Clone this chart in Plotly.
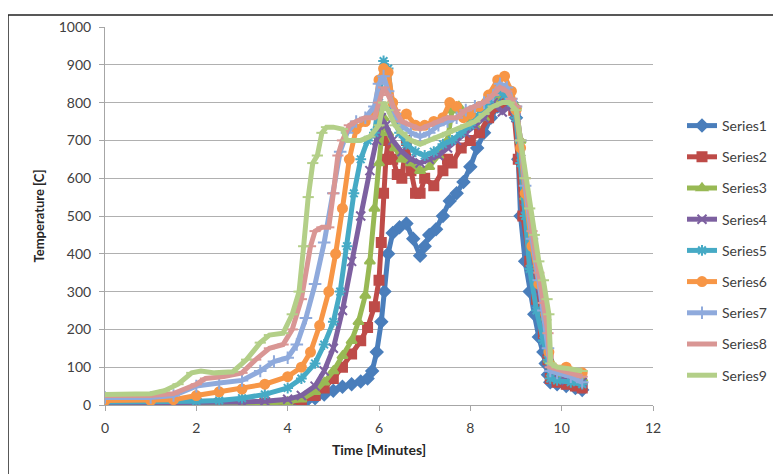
import plotly.graph_objects as go

# ---------------- data ----------------
names = ["Series1", "Series2", "Series3", "Series4", "Series5",
         "Series6", "Series7", "Series8", "Series9"]

t1 = [0, 0.5, 1, 1.5, 2, 2.5, 3, 3.5, 4, 4.2, 4.4, 4.6, 4.8, 5.0, 5.2, 5.4, 5.6, 5.75, 5.85, 5.95,
      6.05, 6.12, 6.2, 6.3, 6.45, 6.6, 6.75, 6.9, 7.0, 7.1, 7.25, 7.4, 7.55, 7.7, 7.85, 8.0, 8.15,
      8.3, 8.45, 8.6, 8.75, 8.9, 9.0, 9.05, 9.1, 9.2, 9.3, 9.4, 9.5, 9.6, 9.65, 9.7, 9.75, 9.9,
      10.1, 10.3, 10.45]
v1 = [0, 0, 0, 0, 0, 1, 1, 2, 3, 5, 10, 18, 28, 38, 48, 55, 62, 70, 90, 140,
      220, 300, 400, 455, 470, 480, 440, 395, 420, 450, 465, 500, 540, 560, 590, 630, 680,
      720, 760, 790, 810, 800, 760, 650, 500, 380, 300, 240, 180, 140, 110, 80, 60, 55,
      50, 45, 40]

t2 = [0, 0.5, 1, 1.5, 2, 2.5, 3, 3.5, 4, 4.3, 4.6, 4.8, 5.0, 5.2, 5.4, 5.6, 5.75, 5.9, 6.0, 6.05,
      6.1, 6.15, 6.2, 6.3, 6.4, 6.5, 6.6, 6.7, 6.8, 6.9, 7.0, 7.2, 7.4, 7.5, 7.6, 7.8, 8.0, 8.2,
      8.4, 8.6, 8.8, 8.95, 9.05, 9.15, 9.3, 9.45, 9.6, 9.7, 9.75, 9.9, 10.1, 10.3, 10.45]
v2 = [2, 2, 2, 2, 3, 3, 4, 5, 6, 10, 25, 45, 70, 100, 135, 170, 205, 260, 330, 430,
      560, 650, 700, 650, 610, 600, 700, 620, 560, 560, 600, 580, 620, 650, 640, 680, 700, 720,
      760, 790, 800, 780, 650, 500, 380, 280, 190, 120, 70, 60, 55, 50, 45]

t3 = [0, 1, 2, 3, 3.5, 4, 4.3, 4.6, 4.8, 5.0, 5.2, 5.4, 5.55, 5.7, 5.8, 5.9, 6.0, 6.1, 6.2, 6.35,
      6.5, 6.7, 6.9, 7.1, 7.3, 7.5, 7.6, 7.75, 7.9, 8.1, 8.3, 8.5, 8.7, 8.85, 9.0, 9.1, 9.2, 9.35,
      9.5, 9.65, 9.72, 9.8, 10.1, 10.45]
v3 = [3, 3, 3, 4, 5, 8, 15, 35, 60, 90, 130, 170, 220, 290, 380, 520, 640, 760, 720, 680,
      650, 640, 620, 630, 660, 700, 780, 790, 760, 740, 760, 800, 830, 810, 790, 700, 550, 420,
      320, 230, 120, 80, 75, 70]

t4 = [0, 1, 2, 3, 3.5, 4, 4.3, 4.6, 4.8, 5.0, 5.2, 5.4, 5.6, 5.8, 5.95, 6.05, 6.15, 6.3, 6.5, 6.7,
      6.9, 7.1, 7.3, 7.5, 7.7, 7.9, 8.1, 8.3, 8.5, 8.7, 8.85, 9.0, 9.1, 9.2, 9.35, 9.5, 9.65, 9.72,
      9.8, 10.1, 10.45]
v4 = [5, 5, 6, 8, 10, 15, 25, 50, 90, 150, 250, 380, 500, 620, 700, 760, 740, 700, 670, 650,
      640, 650, 660, 680, 700, 720, 740, 760, 800, 775, 790, 760, 650, 520, 400, 300, 210, 110,
      70, 65, 60]

t5 = [0, 1, 2, 2.5, 3, 3.5, 4, 4.3, 4.6, 4.8, 5.0, 5.15, 5.3, 5.45, 5.6, 5.75, 5.9, 6.0, 6.1, 6.2,
      6.3, 6.45, 6.6, 6.8, 7.0, 7.2, 7.4, 7.6, 7.8, 8.0, 8.2, 8.4, 8.6, 8.75, 8.9, 9.0, 9.1, 9.2,
      9.3, 9.45, 9.6, 9.7, 9.75, 9.9, 10.2, 10.45]
v5 = [8, 8, 10, 12, 18, 28, 45, 70, 110, 160, 220, 300, 420, 560, 650, 700, 720, 800, 910, 890,
      780, 720, 690, 670, 660, 670, 690, 700, 720, 740, 770, 800, 830, 820, 800, 760, 640, 500,
      360, 250, 170, 120, 70, 65, 60, 55]

t6 = [0, 1, 1.5, 2, 2.5, 3, 3.5, 4, 4.3, 4.5, 4.7, 4.9, 5.05, 5.2, 5.35, 5.5, 5.7, 5.9, 6.0, 6.1,
      6.2, 6.3, 6.45, 6.6, 6.8, 7.0, 7.2, 7.4, 7.55, 7.7, 7.85, 8.0, 8.2, 8.4, 8.6, 8.75, 8.9, 9.0,
      9.1, 9.2, 9.35, 9.5, 9.65, 9.72, 9.8, 10.1, 10.45]
v6 = [12, 12, 14, 25, 35, 42, 55, 75, 100, 140, 210, 300, 400, 520, 650, 730, 750, 770, 860, 890,
      880, 800, 760, 770, 740, 740, 750, 760, 800, 790, 760, 770, 790, 820, 860, 870, 830, 780,
      680, 560, 420, 320, 240, 140, 100, 100, 85]

t7 = [0, 1, 1.5, 2, 2.5, 3, 3.4, 3.7, 4.0, 4.2, 4.4, 4.6, 4.8, 5.0, 5.15, 5.3, 5.5, 5.7, 5.9, 6.0,
      6.1, 6.2, 6.35, 6.5, 6.7, 6.9, 7.1, 7.3, 7.5, 7.7, 7.9, 8.1, 8.3, 8.5, 8.65, 8.8, 8.9, 9.0,
      9.1, 9.2, 9.35, 9.5, 9.6, 9.7, 9.75, 9.9, 10.2, 10.45]
v7 = [20, 20, 25, 50, 58, 65, 90, 115, 125, 160, 230, 320, 430, 560, 670, 720, 750, 760, 790, 850,
      870, 830, 770, 740, 720, 710, 720, 740, 750, 760, 780, 790, 800, 820, 850, 840, 810, 790,
      700, 580, 440, 330, 250, 150, 90, 85, 75, 60]

t8 = [0, 1, 1.5, 2, 2.2, 2.6, 3.0, 3.3, 3.6, 3.9, 4.1, 4.3, 4.5, 4.6, 4.75, 4.9, 5.0, 5.1, 5.2, 5.35,
      5.5, 5.7, 5.9, 6.0, 6.1, 6.2, 6.35, 6.5, 6.7, 6.9, 7.1, 7.3, 7.5, 7.7, 7.9, 8.1, 8.3, 8.5,
      8.65, 8.8, 8.9, 9.0, 9.1, 9.2, 9.35, 9.5, 9.6, 9.7, 9.75, 9.9, 10.2, 10.45]
v8 = [25, 25, 30, 55, 70, 75, 85, 120, 150, 160, 200, 280, 420, 460, 470, 470, 560, 660, 700, 740,
      750, 760, 760, 800, 840, 820, 780, 750, 740, 730, 740, 750, 760, 760, 780, 790, 800, 820,
      840, 830, 810, 790, 700, 600, 460, 350, 270, 190, 100, 95, 85, 75]

t9 = [0, 0.5, 1.0, 1.3, 1.6, 1.9, 2.1, 2.4, 2.8, 3.1, 3.4, 3.6, 3.9, 4.1, 4.25, 4.35, 4.45, 4.55,
      4.65, 4.75, 4.85, 5.0, 5.2, 5.3, 5.45, 5.6, 5.8, 6.0, 6.1, 6.2, 6.35, 6.5, 6.7, 6.9, 7.1,
      7.3, 7.5, 7.7, 7.9, 8.1, 8.3, 8.5, 8.7, 8.85, 9.0, 9.1, 9.2, 9.3, 9.4, 9.5, 9.6, 9.68, 9.72,
      9.76, 9.9, 10.2, 10.45]
v9 = [28, 28, 30, 38, 55, 85, 90, 85, 88, 120, 165, 185, 190, 240, 300, 420, 550, 640,
      660, 720, 735, 735, 730, 700, 700, 700, 710, 740, 800, 780, 740, 720, 700, 690, 700,
      710, 720, 730, 740, 750, 770, 790, 800, 800, 780, 700, 600, 520, 450, 380, 330, 280, 240,
      110, 100, 95, 90]

times = [t1, t2, t3, t4, t5, t6, t7, t8, t9]
values = [v1, v2, v3, v4, v5, v6, v7, v8, v9]

x_ticks = [0, 2, 4, 6, 8, 10, 12]
y_ticks = [0, 100, 200, 300, 400, 500, 600, 700, 800, 900, 1000]

# ---------------- styles ----------------
colors = ["#4A7EBB", "#BE4B48", "#98B954", "#7D60A0", "#46AAC5",
          "#F79646", "#8FAADC", "#D99694", "#B3CF88"]
symbols = ["diamond", "square", "triangle-up", "x-thin-open", "asterisk-open",
           "circle", "cross-thin-open", "line-ew-open", "line-ew-open"]
sizes = [9, 9, 9, 9, 9, 9, 9, 8, 8]

FONT = "Lato"

fig = go.Figure()
for i in range(9):
    c = colors[i]
    fig.add_trace(go.Scatter(
        x=times[i], y=values[i], name=names[i], mode="lines+markers",
        legendgroup=names[i],
        line=dict(color=c, width=5),
        marker=dict(symbol=symbols[i], size=sizes[i], color=c,
                    line=dict(color=c, width=2)),
    ))

# page body has an 8px offset; layout is designed in screen pixels
OFF = 8
W, H = 781, 474
SX0, SX1, SY0, SY1 = 105, 653, 27, 405   # plot area on screen
L = SX0 - OFF
R = W - (SX1 - OFF)
T = SY0 - OFF
B = H - (SY1 - OFF)
pw, ph = SX1 - SX0, SY1 - SY0

def px(xs):
    return (xs - SX0) / pw

def py(ys):
    return (SY1 - ys) / ph

fig.update_layout(
    width=W, height=H,
    margin=dict(l=L, r=R, t=T, b=B, autoexpand=False),
    paper_bgcolor="white", plot_bgcolor="white",
    font=dict(family=FONT, color="#404040", size=14),
    showlegend=True,
    legend=dict(x=px(682), y=py(110), xanchor="left", yanchor="top",
                font=dict(family=FONT, size=14, color="#404040"),
                tracegroupgap=10, bgcolor="rgba(0,0,0,0)", itemwidth=30),
    xaxis=dict(range=[0, 12], tickvals=x_ticks, ticktext=[str(v) for v in x_ticks],
               showgrid=False, zeroline=False, showline=True, linecolor="#a6a6a6",
               linewidth=1, ticks="outside", ticklen=5, tickcolor="#a6a6a6",
               ticklabelstandoff=5, automargin=False,
               title=dict(text="<b>Time [Minutes]</b>", font=dict(size=14, color="#262626"),
                          standoff=10)),
    yaxis=dict(range=[0, 1000], tickvals=y_ticks, ticktext=[str(v) for v in y_ticks],
               showgrid=True, gridcolor="#b0b0b0", gridwidth=1, zeroline=False,
               showline=True, linecolor="#a6a6a6", linewidth=1, ticks="outside",
               ticklen=5, tickcolor="#a6a6a6", ticklabelstandoff=5, automargin=False,
               title=dict(text="<b>Temperature [C]</b>", font=dict(size=13, color="#262626"),
                          standoff=11)),
)

# outer chart frame
fig.add_shape(type="rect", xref="paper", yref="paper",
              x0=px(8), x1=px(800), y0=py(490), y1=py(15),
              line=dict(color="#222222", width=1.5), fillcolor="rgba(0,0,0,0)",
              layer="below")

fig.write_html("out.html")
